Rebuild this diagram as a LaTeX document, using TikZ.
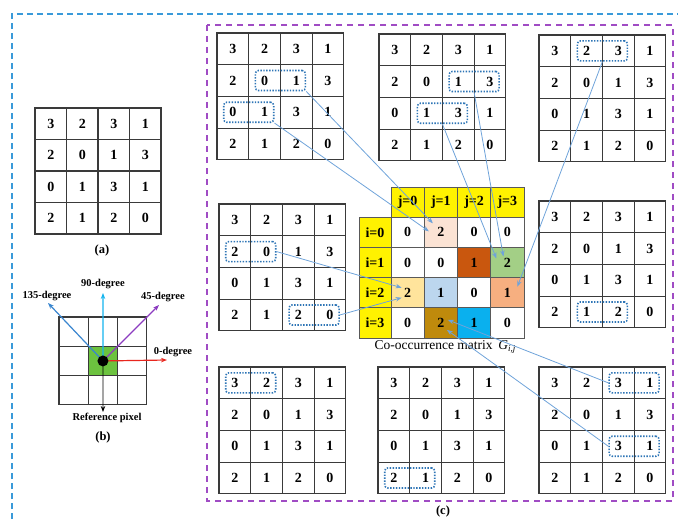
\documentclass[tikz,border=0pt]{standalone}
\usepackage{fontspec}
\setmainfont{Liberation Serif}
\usetikzlibrary{calc,arrows.meta}
\definecolor{gridc}{HTML}{3A3A3A}
\definecolor{dotc}{HTML}{2E75B6}
\definecolor{connc}{HTML}{6FA3DA}
\definecolor{outerc}{HTML}{3A9AD9}
\definecolor{purplec}{HTML}{A04CC4}
\definecolor{cA}{HTML}{FBE3D4}
\definecolor{cB}{HTML}{C9570E}
\definecolor{cC}{HTML}{A3CF86}
\definecolor{cD}{HTML}{FFE49C}
\definecolor{cE}{HTML}{BCD6EE}
\definecolor{cF}{HTML}{F6AF80}
\definecolor{cG}{HTML}{BF8A0C}
\definecolor{cH}{HTML}{0AB0EE}
\definecolor{greenc}{HTML}{6CC23F}
\definecolor{redc}{HTML}{E8261E}
\definecolor{cyanc}{HTML}{14B4EE}
\definecolor{violc}{HTML}{8C3CC0}
\definecolor{bluec}{HTML}{3A86CF}
\newcommand\mygrid[4]{% name, x, y, cell
  \foreach \r/\row in {0/{3,2,3,1},1/{2,0,1,3},2/{0,1,3,1},3/{2,1,2,0}} {
    \foreach \v [count=\c from 0] in \row {
      \node[gcell,minimum size=#4pt] (#1-\r-\c) at ({#2+(\c+0.5)*#4},{#3+(\r+0.5)*#4}) {\v};
    }
  }
}
\tikzset{
  gcell/.style={draw=gridc,line width=1.1pt,inner sep=0pt,font=\bfseries\fontsize{14}{16}\selectfont},
  dbox/.style={draw=dotc,line width=1.6pt,dash pattern=on 1.4pt off 1.5pt,rounded corners=3pt,minimum width=50pt,minimum height=20pt,inner sep=0pt},
  conn/.style={draw=connc,line width=0.8pt,-{Stealth[length=6pt,width=4.5pt]}},
  mcell/.style={draw=black!65,line width=0.8pt,minimum width=33.25pt,minimum height=30.2pt,inner sep=0pt,font=\bfseries\fontsize{14}{16}\selectfont},
  hcell/.style={mcell,fill=yellow},
  lab/.style={font=\bfseries\fontsize{10.5}{12}\selectfont,inner sep=0pt},
  captxt/.style={font=\bfseries\fontsize{12.5}{14}\selectfont,inner sep=0pt},
  dirarr/.style={line width=1.2pt,-{Stealth[length=6pt,width=4.5pt]}}
}
\begin{document}
\begin{tikzpicture}[x=1pt,y=-1pt]
\useasboundingbox (0,0) rectangle (678,519);
% outer frames
\draw[outerc,line width=1.3pt,dash pattern=on 6pt off 4pt] (12,519) -- (12,14) -- (678,14);
\draw[purplec,line width=1.3pt,dash pattern=on 6pt off 5pt] (207,25) rectangle (673,501);
% (a)
\mygrid{ga}{35}{108}{31.5}
\node[captxt] (capa) at (102,250) {(a)};
% (b)
\foreach \r in {0,1,2} \foreach \c in {0,1,2} {
  \node[draw=gridc,line width=1.1pt,minimum size=29.3pt,inner sep=0pt] (gb-\r-\c) at ({59+(\c+0.5)*29.3},{317+(\r+0.5)*29.3}) {};
}
\fill[greenc] ($(gb-1-1)+(-14,-14)$) rectangle ($(gb-1-1)+(14,14)$);
\node[draw=gridc,line width=1.1pt,minimum size=29.3pt,inner sep=0pt] at (gb-1-1) {};
\node[lab] (l0) at (173,352) {0-degree};
\node[lab] (l45) at (163,297) {45-degree};
\node[lab] (l90) at (103,284) {90-degree};
\node[lab] (l135) at (47,296) {135-degree};
\node[lab] (lref) at (107,418) {Reference pixel};
\node[captxt] (capb) at (103,437) {(b)};
\coordinate (t0) at (167,360);
\coordinate (t45) at (159,305);
\coordinate (t90) at (103,293);
\coordinate (t135) at (48,303);
\coordinate (tref) at (103,412);
\draw[dirarr,redc] (gb-1-1.center) -- (t0);
\draw[dirarr,violc] (gb-1-1.center) -- (t45);
\draw[dirarr,cyanc] (gb-1-1.center) -- (t90);
\draw[dirarr,bluec] (gb-1-1.center) -- (t135);
\draw[dirarr,black,line width=0.9pt] (gb-1-1.center) -- (tref);
\fill[black] (gb-1-1.center) circle (5.5);
% (c) grids
\mygrid{g1}{217}{33}{31.7}
\mygrid{g2}{379}{34}{31.7}
\mygrid{g3}{539}{35}{31.7}
\mygrid{g4}{219}{204}{31.7}
\mygrid{g5}{539}{201}{31.7}
\mygrid{g6}{219}{367}{31.7}
\mygrid{g7}{378}{367}{31.7}
\mygrid{g8}{539}{367}{31.7}
% dotted boxes
\node[dbox] (tl1) at ($(g1-1-1)!0.5!(g1-1-2)$) {};
\node[dbox] (tl2) at ($(g1-2-0)!0.5!(g1-2-1)$) {};
\node[dbox] (tm1) at ($(g2-1-2)!0.5!(g2-1-3)$) {};
\node[dbox] (tm2) at ($(g2-2-1)!0.5!(g2-2-2)$) {};
\node[dbox] (tr1) at ($(g3-0-1)!0.5!(g3-0-2)$) {};
\node[dbox] (ml1) at ($(g4-1-0)!0.5!(g4-1-1)$) {};
\node[dbox] (ml2) at ($(g4-3-2)!0.5!(g4-3-3)$) {};
\node[dbox] (mr1) at ($(g5-3-1)!0.5!(g5-3-2)$) {};
\node[dbox] (bl1) at ($(g6-0-0)!0.5!(g6-0-1)$) {};
\node[dbox] (bm1) at ($(g7-3-0)!0.5!(g7-3-1)$) {};
\node[dbox] (br1) at ($(g8-0-2)!0.5!(g8-0-3)$) {};
\node[dbox] (br2) at ($(g8-2-2)!0.5!(g8-2-3)$) {};
% co-occurrence matrix
\foreach \j in {0,1,2,3} {
  \node[hcell] (hj-\j) at ({391+(\j+0.5)*33.25},202.1) {j=\j};
  \node[hcell,minimum width=32pt] (hi-\j) at (375,{217.2+(\j+0.5)*30.2}) {i=\j};
}
\foreach \i/\row in {0/{0,2,0,0},1/{0,0,1,2},2/{2,1,0,1},3/{0,2,1,0}} {
  \foreach \v [count=\j from 0] in \row {
    \node[mcell] (m-\i-\j) at ({391+(\j+0.5)*33.25},{217.2+(\i+0.5)*30.2}) {};
  }
}
\fill[cA] ($(m-0-1)+(-16.6,-15.1)$) rectangle ($(m-0-1)+(16.6,15.1)$);
\fill[cB] ($(m-1-2)+(-16.6,-15.1)$) rectangle ($(m-1-2)+(16.6,15.1)$);
\fill[cC] ($(m-1-3)+(-16.6,-15.1)$) rectangle ($(m-1-3)+(16.6,15.1)$);
\fill[cD] ($(m-2-0)+(-16.6,-15.1)$) rectangle ($(m-2-0)+(16.6,15.1)$);
\fill[cE] ($(m-2-1)+(-16.6,-15.1)$) rectangle ($(m-2-1)+(16.6,15.1)$);
\fill[cF] ($(m-2-3)+(-16.6,-15.1)$) rectangle ($(m-2-3)+(16.6,15.1)$);
\fill[cG] ($(m-3-1)+(-16.6,-15.1)$) rectangle ($(m-3-1)+(16.6,15.1)$);
\fill[cH] ($(m-3-2)+(-16.6,-15.1)$) rectangle ($(m-3-2)+(16.6,15.1)$);
\foreach \i/\row in {0/{0,2,0,0},1/{0,0,1,2},2/{2,1,0,1},3/{0,2,1,0}} {
  \foreach \v [count=\j from 0] in \row {
    \node[mcell] at (m-\i-\j) {\v};
  }
}
\node[font=\fontsize{13.5}{15}\selectfont,inner sep=0pt] (capm) at (445,347) {Co-occurrence matrix \,{\itshape G}\raisebox{-0.35ex}{\fontsize{9}{10}\selectfont\itshape i,j}};
\node[captxt] (capc) at (443,511) {(c)};
% arrow ends
\coordinate (e1) at ($(m-0-1)+(-8,-9)$);
\coordinate (e2) at ($(m-0-1)+(-12,-1)$);
\coordinate (e3) at ($(m-1-3)+(-4,-6)$);
\coordinate (e4) at ($(m-1-3)+(-11,-4)$);
\coordinate (e5) at ($(m-2-3)+(10,-6)$);
\coordinate (e6) at ($(m-2-0)+(-6,-5)$);
\coordinate (e7) at ($(m-2-0)+(-6,5)$);
\coordinate (e8) at ($(m-3-1)+(7,-3)$);
\coordinate (e9) at ($(m-3-1)+(6,7)$);
\draw[conn] (tl1.south east) -- (e1);
\draw[conn] (tl2.south east) -- (e2);
\draw[conn] (tm1.south) -- (e3);
\draw[conn] (tm2.south) -- (e4);
\draw[conn] (tr1.south) -- (e5);
\draw[conn] (ml1.east) -- (e6);
\draw[conn] (ml2.east) -- (e7);
\draw[conn] (br1.west) -- (e8);
\draw[conn] (br2.west) -- (e9);
\end{tikzpicture}
\end{document}
